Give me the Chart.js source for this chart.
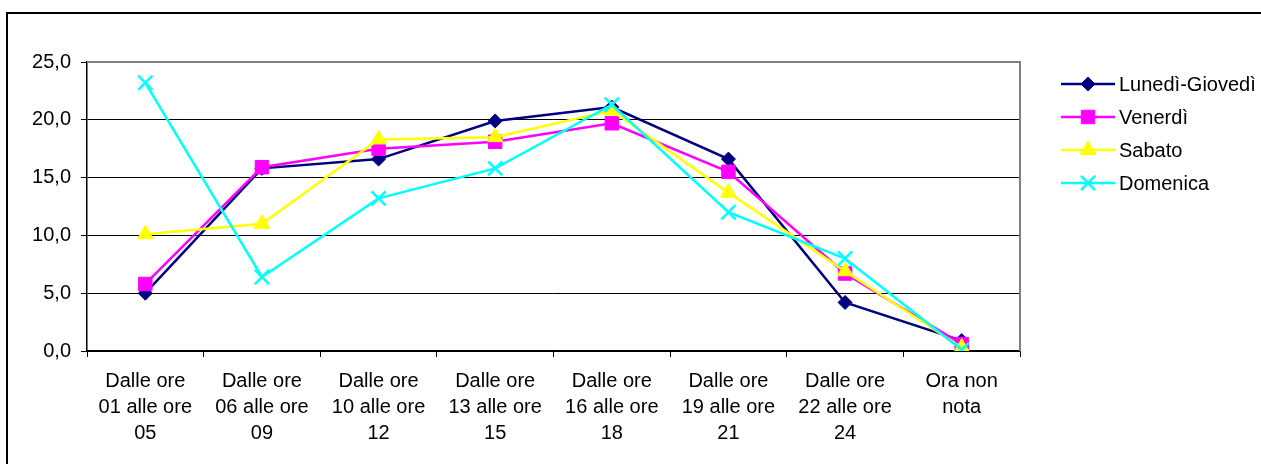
<!DOCTYPE html>
<html>
<head>
<meta charset="utf-8">
<script src="https://cdn.jsdelivr.net/npm/chart.js@4"></script>
<style>
  html, body { margin: 0; padding: 0; background: #fff; }
  #wrap { width: 1261px; height: 464px; }
</style>
</head>
<body>
<div id="wrap"><canvas id="lineChart" width="1261" height="464"></canvas></div>
<script>
const categories = [
  ["Dalle ore", "01 alle ore", "05"],
  ["Dalle ore", "06 alle ore", "09"],
  ["Dalle ore", "10 alle ore", "12"],
  ["Dalle ore", "13 alle ore", "15"],
  ["Dalle ore", "16 alle ore", "18"],
  ["Dalle ore", "19 alle ore", "21"],
  ["Dalle ore", "22 alle ore", "24"],
  ["Ora non", "nota"]
];
const seriesNames = ["Lunedì-Giovedì", "Venerdì", "Sabato", "Domenica"];
const lunediGiovedi = [5.0, 15.8, 16.6, 19.9, 21.1, 16.6, 4.2, 0.9];
const venerdi = [5.8, 15.9, 17.5, 18.1, 19.7, 15.5, 6.7, 0.6];
const sabato = [10.1, 11.0, 18.3, 18.5, 20.8, 13.7, 6.9, 0.3];
const domenica = [23.2, 6.4, 13.2, 15.8, 21.3, 12.0, 8.0, 0.1];
const yTicks = [0, 5, 10, 15, 20, 25];

const FONT = "'Liberation Sans', Arial, sans-serif";

// outer frame + grey plot border + legend
const decor = {
  id: "decor",
  beforeDraw(c) {
    const ctx = c.ctx;
    ctx.save();
    ctx.strokeStyle = "#000";
    ctx.lineWidth = 2;
    ctx.beginPath();
    ctx.moveTo(7, 470);
    ctx.lineTo(7, 13);
    ctx.lineTo(1270, 13);
    ctx.stroke();
    ctx.restore();
  },
  afterDatasetsDraw(c) {
    const ctx = c.ctx;
    const a = c.chartArea;
    ctx.save();
    ctx.strokeStyle = "#808080";
    ctx.lineWidth = 2;
    ctx.beginPath();
    ctx.moveTo(a.left, a.top);
    ctx.lineTo(a.right, a.top);
    ctx.lineTo(a.right, a.bottom);
    ctx.stroke();

    // legend
    ctx.font = "20px " + FONT;
    ctx.textBaseline = "middle";
    ctx.textAlign = "left";
    c.data.datasets.forEach((ds, i) => {
      const y = 84 + i * 33;
      ctx.strokeStyle = ds.borderColor;
      ctx.lineWidth = ds.borderWidth;
      ctx.beginPath();
      ctx.moveTo(1061, y);
      ctx.lineTo(1115, y);
      ctx.stroke();
      ctx.fillStyle = ds.pointBackgroundColor;
      ctx.strokeStyle = ds.pointBorderColor;
      ctx.lineWidth = ds.pointBorderWidth;
      Chart.helpers.drawPoint(ctx, {
        pointStyle: ds.pointStyle,
        radius: ds.pointRadius,
        rotation: 0,
        borderWidth: ds.pointBorderWidth
      }, 1088, y);
      ctx.fillStyle = "#000";
      ctx.fillText(ds.label, 1119, y + 1);
    });
    ctx.restore();
  }
};

function series(label, data, color, style, radius, order) {
  return {
    label: label,
    data: data,
    borderColor: color,
    backgroundColor: color,
    borderWidth: 2.5,
    pointStyle: style,
    pointRadius: radius,
    pointHoverRadius: radius,
    pointBackgroundColor: color,
    pointBorderColor: color,
    pointBorderWidth: style === "crossRot" ? 2.5 : 1,
    tension: 0,
    order: order
  };
}

const ctx = document.getElementById("lineChart").getContext("2d");
new Chart(ctx, {
  type: "line",
  data: {
    labels: categories,
    datasets: [
      series(seriesNames[0], lunediGiovedi, "#000080", "rectRot", 7, 3),
      series(seriesNames[1], venerdi, "#FF00FF", "rect", 9.5, 2),
      series(seriesNames[2], sabato, "#FFFF00", "triangle", 9, 1),
      series(seriesNames[3], domenica, "#00FFFF", "crossRot", 10, 0)
    ]
  },
  options: {
    responsive: false,
    animation: false,
    events: [],
    layout: { padding: { top: 62, right: 241, left: 0, bottom: 0 } },
    plugins: { legend: { display: false }, tooltip: { enabled: false } },
    scales: {
      x: {
        offset: true,
        grid: { offset: true, drawOnChartArea: false, drawTicks: true, tickLength: 6, color: "#000", lineWidth: 1 },
        border: { display: true, color: "#000", width: 1.5 },
        ticks: {
          color: "#000",
          maxRotation: 0,
          autoSkip: false,
          padding: 11,
          font: { family: FONT, size: 20, lineHeight: 1.3 }
        },
        afterFit(s) { s.height = 113; }
      },
      y: {
        min: 0,
        max: 25,
        afterBuildTicks(s) { s.ticks = yTicks.map(v => ({ value: v })); },
        grid: { color: "#000", lineWidth: 1, tickLength: 6, drawTicks: true },
        border: { display: true, color: "#000", width: 1.5 },
        ticks: {
          color: "#000",
          padding: 10,
          font: { family: FONT, size: 20 },
          callback: v => v.toFixed(1).replace(".", ",")
        },
        afterFit(s) { s.width = 87; }
      }
    }
  },
  plugins: [decor]
});
</script>
</body>
</html>
